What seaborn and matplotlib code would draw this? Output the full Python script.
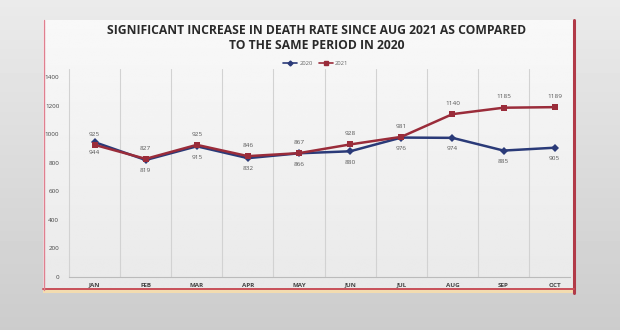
import matplotlib
matplotlib.use("Agg")
import matplotlib.pyplot as plt
import numpy as np
import pandas as pd
import seaborn as sns
from matplotlib.patches import Rectangle
from matplotlib.lines import Line2D

months = ["JAN", "FEB", "MAR", "APR", "MAY", "JUN", "JUL", "AUG", "SEP", "OCT"]
deaths_2020 = [944, 819, 915, 832, 866, 880, 976, 974, 885, 905]
deaths_2021 = [925, 827, 925, 846, 867, 928, 981, 1140, 1185, 1189]
y_ticks = [0, 200, 400, 600, 800, 1000, 1200, 1400]
title = "SIGNIFICANT INCREASE IN DEATH RATE SINCE AUG 2021 AS COMPARED\nTO THE SAME PERIOD IN 2020"

df = pd.DataFrame({
    "month": months * 2,
    "deaths": deaths_2020 + deaths_2021,
    "year": ["2020"] * len(months) + ["2021"] * len(months),
})

sns.set_theme(style="white")
plt.rcParams["font.family"] = ["Open Sans", "DejaVu Sans"]

W, H = 620, 330
fig = plt.figure(figsize=(6.2, 3.3), dpi=100)

# photo background
bg = fig.add_axes([0, 0, 1, 1], zorder=-10)
grad = np.linspace(0.92, 0.80, 100)[:, None] * np.ones((100, 100))
bg.imshow(grad, cmap="gray", vmin=0, vmax=1, aspect="auto", extent=[0, W, H, 0])
# paper with soft gradient
paper = np.linspace(0.975, 0.915, 100)[:, None] * np.ones((100, 10))
bg.imshow(paper, cmap="gray", vmin=0, vmax=1, aspect="auto", extent=[43, 574, 290, 20])
bg.set_xlim(0, W)
bg.set_ylim(H, 0)
bg.axis("off")
bg.add_patch(Rectangle((43, 289), 531, 4, facecolor="#f3dcb0", edgecolor="none"))
bg.plot([574, 574], [20, 293], color="#b13a48", lw=2.2)
bg.plot([43, 574], [289, 289], color="#c8505a", lw=1.4)
bg.plot([43.5, 43.5], [20, 290], color="#e07f8f", lw=1.0)

ax = fig.add_axes([69 / W, 1 - 277 / H, (570 - 69) / W, 200 / H])
ax.set_facecolor("none")
palette = {"2020": "#2a3a78", "2021": "#9a2c3a"}
sns.lineplot(data=df, x="month", y="deaths", hue="year", style="year",
             markers={"2020": "D", "2021": "s"}, dashes=False, palette=palette,
             linewidth=1.8, markersize=4, markeredgewidth=0, legend=False, ax=ax)

ax.set_xlim(-0.5, 9.3)
ax.set_ylim(0, 1400)
ax.set_yticks(y_ticks)
ax.set_yticklabels([str(v) for v in y_ticks])
ax.set_xticks(range(len(months)))
ax.set_xticklabels(months)
ax.tick_params(axis="y", labelsize=4.5, colors="#444444", pad=7, length=0)
ax.tick_params(axis="x", labelsize=4.5, colors="#444444", pad=4, length=0)
for lab in ax.get_xticklabels():
    lab.set_fontweight("bold")
ax.set_xlabel("")
ax.set_ylabel("")
for s in ["top", "right", "left"]:
    ax.spines[s].set_visible(False)
ax.spines["bottom"].set_color("#bbbbbb")
ax.spines["bottom"].set_linewidth(0.8)
for xv in np.arange(-0.5, 9.5, 1.0):
    ax.axvline(xv, ymin=0, ymax=1.04, color="#d2d2d2", lw=0.8, zorder=0, clip_on=False)

for i, (a, b) in enumerate(zip(deaths_2020, deaths_2021)):
    ax.annotate(str(b), (i, b), xytext=(0, 6), textcoords="offset points",
                ha="center", va="bottom", fontsize=4.6, color="#555555")
    ax.annotate(str(a), (i, a), xytext=(0, -6), textcoords="offset points",
                ha="center", va="top", fontsize=4.6, color="#555555")

fig.text(317 / W, 1 - 38 / H, title, ha="center", va="center", fontsize=8.7,
         fontweight="bold", color="#2a2a2a", linespacing=1.2)

handles = [Line2D([], [], color=palette["2020"], marker="D", markersize=2.5, lw=1.2),
           Line2D([], [], color=palette["2021"], marker="s", markersize=2.5, lw=1.2)]
fig.legend(handles, ["2020", "2021"], loc="center", bbox_to_anchor=(316 / W, 1 - 63 / H),
           ncol=2, frameon=False, fontsize=4.2, handlelength=2.4, columnspacing=1.0,
           handletextpad=0.4, labelcolor="#666666")

fig.savefig("out.png", dpi=100)
